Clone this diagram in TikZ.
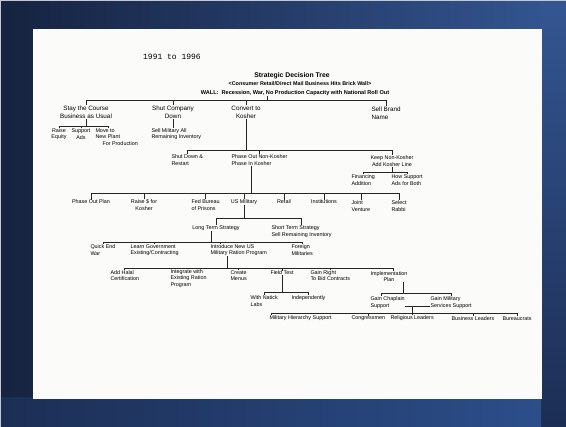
\documentclass[tikz,border=0pt]{standalone}
\usepackage{fontspec}
\setmainfont{Liberation Sans}
\setmonofont{Liberation Mono}
\definecolor{slideleft}{RGB}{22,35,64}
\definecolor{slideright}{RGB}{52,86,146}
\definecolor{slidelow}{RGB}{28,46,84}
\definecolor{slidefoot}{RGB}{44,78,138}
\definecolor{paper}{RGB}{251,251,250}

\begin{document}
\begin{tikzpicture}[x=1pt,y=-1pt,every node/.style={inner sep=0.3pt,text=black,align=center,font=\fontsize{5.4}{6.4}\selectfont},
	branch/.style={font=\fontsize{6.3}{8}\selectfont},
	flush/.style={anchor=west,align=left},
	conn/.style={draw=black!85,line width=0.6pt}]
	\useasboundingbox (0,0) rectangle (566,427);
	\shade[left color=slideleft,right color=slideright] (0,0) rectangle (566,427);
	\shade[top color=slideright,bottom color=slidelow] (541,0) rectangle (566,427);
	\shade[left color=slidelow,right color=slidefoot] (0,398) rectangle (541,427);
	\draw[white!75!slideleft,line width=1.5pt] (0,427) -- (0,0) -- (566,0);
	\fill[paper] (33,29) rectangle (542,399);

	\node[font=\ttfamily\fontsize{8}{9}\selectfont] (years) at (172,57) {1991 to 1996};
	\node[font=\bfseries\fontsize{6.8}{8}\selectfont] (title) at (292,76) {Strategic Decision Tree};
	\node[font=\bfseries\fontsize{5.4}{6}\selectfont] (brick) at (300,84) {\textless Consumer Retail/Direct Mail Business Hits Brick Wall\textgreater};
	\node[font=\bfseries\fontsize{5.6}{6}\selectfont] (wall) at (295,93) {WALL:\ \ Recession, War, No Production Capacity with National Roll Out};

	\coordinate (b1) at (0,100);
	\coordinate (b1a) at (0,126);
	\coordinate (b2) at (0,150);
	\coordinate (b3) at (0,172);
	\coordinate (b4) at (0,193);
	\coordinate (b5) at (0,218);
	\coordinate (b6) at (0,242);
	\coordinate (b7) at (0,268);
	\coordinate (b8) at (0,292);
	\coordinate (b9) at (0,293);
	\coordinate (b10) at (0,313);

	\node[branch] (stay) at (86,112) {Stay the Course\\Business as Usual};
	\node[branch] (shutco) at (173,112) {Shut Company\\Down};
	\node[branch] (convert) at (246,112) {Convert to\\Kosher};
	\node[branch,flush] (sell) at (371,113) {Sell Brand\\Name};
	\draw[conn] ([xshift=-28pt]wall.south) -- ([xshift=-28pt]wall.south |- b1);
	\draw[conn] (stay.north) |- (sell.north |- b1) -- (sell.north);
	\draw[conn] (shutco.north) -- (shutco.north |- b1);
	\draw[conn] (convert.north) -- (convert.north |- b1);

	\node (raise) at (59,134) {Raise\\Equity};
	\node (support) at (81,134) {Support\\Ads};
	\node[flush] (moveto) at (95,137) {Move to\\New Plant\\\hspace*{7pt}For Production};
	\draw[conn] (stay.south) -- (stay.south |- b1a);
	\draw[conn] (raise.north) |- ([xshift=-8pt]moveto.north |- b1a) -- ([xshift=-8pt]moveto.north);
	\draw[conn] (support.north) -- (support.north |- b1a);

	\node[flush] (sellmil) at (151,134) {Sell Military All\\Remaining Inventory};
	\draw[conn] (shutco.south) -- (shutco.south |- sellmil.north);

	\node[flush] (shutdown) at (171,160) {Shut Down \&\\Restart};
	\node[flush] (phaseout) at (231,160) {Phase Out Non-Kosher\\Phase In Kosher};
	\node (keep) at (392,161) {Keep Non-Kosher\\Add Kosher Line};
	\draw[conn] (convert.south) -- (convert.south |- b2);
	\draw[conn] (shutdown.north) |- (keep.north |- b2) -- (keep.north);
	\draw[conn] (phaseout.north) -- (phaseout.north |- b2);

	\node[flush] (financing) at (351,180) {Financing\\Addition};
	\node[flush] (howsup) at (391,180) {How Support\\Ads for Both};
	\draw[conn] (keep.south) -- (keep.south |- b3);
	\draw[conn] (financing.north) |- (howsup.north |- b3) -- (howsup.north);

	\node (plan) at (91,202) {Phase Out Plan};
	\node (raisek) at (144,205) {Raise \$ for\\Kosher};
	\node[flush] (fbop) at (191,205) {Fed Bureau\\of Prisons};
	\node (usmil) at (244,202) {US Military};
	\node (retail) at (284,202) {Retail};
	\node (inst) at (324,202) {Institutions};
	\node[flush] (joint) at (351,206) {Joint\\Venture};
	\node[flush] (rabbi) at (391,206) {Select\\Rabbi};
	\draw[conn] ([xshift=-8pt]phaseout.south) -- ([xshift=-8pt]phaseout.south |- b4);
	\draw[conn] (plan.north) |- (rabbi.north |- b4) -- (rabbi.north);
	\draw[conn] (raisek.north) -- (raisek.north |- b4);
	\draw[conn] (fbop.north) -- (fbop.north |- b4);
	\draw[conn] (usmil.north) -- (usmil.north |- b4);
	\draw[conn] (retail.north) -- (retail.north |- b4);
	\draw[conn] (inst.north) -- (inst.north |- b4);
	\draw[conn] (joint.north) -- (joint.north |- b4);

	\node (longterm) at (216,228) {Long Term Strategy};
	\node[flush] (shortterm) at (271,231.5) {Short Term Strategy\\Sell Remaining Inventory};
	\draw[conn] (usmil.south) -- (usmil.south |- b5);
	\draw[conn] (longterm.north) |- (shortterm.north |- b5) -- (shortterm.north);

	\node[flush] (quickend) at (90,250) {Quick End\\War};
	\node[flush] (learn) at (130,250) {Learn Government\\Existing/Contracting};
	\node[flush] (introduce) at (210,250) {Introduce New US\\Military Ration Program};
	\node[flush] (foreign) at (291,250) {Foreign\\Militaries};
	\draw[conn] ([xshift=-5pt]longterm.south) -- ([xshift=-5pt]longterm.south |- b6);
	\draw[conn] (quickend.north) |- (foreign.north |- b6) -- (foreign.north);
	\draw[conn] (learn.north) -- (learn.north |- b6);
	\draw[conn] ([xshift=-18pt]introduce.north) -- ([xshift=-18pt]introduce.north |- b6);

	\node[flush] (halal) at (110,275.5) {Add Halal\\Certification};
	\node[flush] (integrate) at (170,278.5) {Integrate with\\Existing Ration\\Program};
	\node[flush] (menus) at (230,275.5) {Create\\Menus};
	\node[flush] (fieldtest) at (270,273) {Field Test};
	\node[flush] (bidright) at (310,275.5) {Gain Right\\To Bid Contracts};
	\node (implement) at (389,276.5) {Implementation\\Plan};
	\draw[conn] ([xshift=-11pt]introduce.south) -- ([xshift=-11pt]introduce.south |- b7);
	\draw[conn] (halal.north) |- ([xshift=4pt]implement.north |- b7) -- ([xshift=4pt]implement.north);
	\draw[conn] (integrate.north) -- (integrate.north |- b7);
	\draw[conn] (menus.north) -- (menus.north |- b7);
	\draw[conn] (fieldtest.north) -- (fieldtest.north |- b7);
	\draw[conn] (bidright.north) -- (bidright.north |- b7);

	\node[flush] (natick) at (250,301) {With Natick\\Labs};
	\node[flush] (independent) at (291,298) {Independently};
	\draw[conn] (fieldtest.south) -- (fieldtest.south |- b8);
	\draw[conn] (natick.north) |- (independent.north |- b8) -- (independent.north);

	\node[flush] (chaplain) at (370,302.5) {Gain Chaplain\\Support};
	\node[flush] (milserv) at (430,302.5) {Gain Military\\Services Support};
	\draw[conn] ([xshift=14pt]implement.south) -- ([xshift=14pt]implement.south |- b9);
	\draw[conn] ([xshift=-6pt]chaplain.north) |- (milserv.north |- b9) -- (milserv.north);
	\coordinate (join) at (412,306);
	\draw[conn] ([yshift=-3.5pt]chaplain.east) -- ([yshift=-3.5pt]milserv.west);
	\draw[conn] (join) -- (join |- b10);

	\node[flush] (hierarchy) at (269,318.5) {Military Hierarchy Support};
	\node[flush] (congress) at (351,318.5) {Congressmen};
	\node[flush] (religious) at (390,318.5) {Religious Leaders};
	\node[flush] (business) at (451,318.5) {Business Leaders};
	\node[flush] (bureaucrats) at (502,318.5) {Bureaucrats};
	\draw[conn] ([xshift=2pt]hierarchy.north west) |- (bureaucrats.north |- b10) -- (bureaucrats.north);
	\draw[conn] (congress.north) -- (congress.north |- b10);
	\draw[conn] (religious.north) -- (religious.north |- b10);
	\draw[conn] (business.north) -- (business.north |- b10);
\end{tikzpicture}
\end{document}
